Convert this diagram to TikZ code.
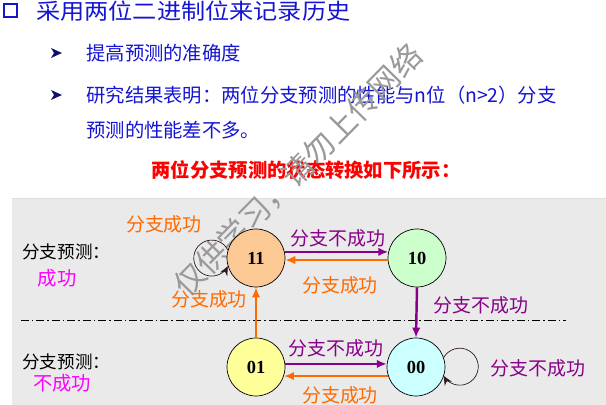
\documentclass[tikz,border=0pt]{standalone}
\usepackage{fontspec}
\usepackage{xcolor}
\usepackage{tikz}
\usetikzlibrary{arrows.meta,positioning,calc}
\setmainfont{Liberation Serif}
\newfontfamily\cjk{Noto Sans CJK SC}
\newfontfamily\cjkwide{Noto Sans CJK SC}[FakeStretch=1.1]
\definecolor{titleblue}{HTML}{1414D2}
\definecolor{bulletblue}{HTML}{10106A}
\definecolor{purp}{HTML}{880088}
\definecolor{orng}{HTML}{FF6A00}
\definecolor{mgnta}{HTML}{FF00FF}
\definecolor{panelgray}{HTML}{EAEAEA}
\definecolor{loopdark}{HTML}{2E1A24}
\definecolor{peach}{HTML}{FCC994}
\definecolor{softgreen}{HTML}{CCFFCC}
\definecolor{softyellow}{HTML}{FFFF99}
\definecolor{softcyan}{HTML}{CCFFFF}

\begin{document}
\begin{tikzpicture}[
 x=0.02cm,y=-0.02cm,
 st/.style={circle,draw,thin,minimum size=1.16cm,inner sep=0pt,font=\bfseries\fontsize{10.5}{12}\selectfont},
 arr/.style={-{Latex[length=2mm,width=1.7mm]},line width=1.4pt},
 selfloop/.style={-{Stealth[length=1.8mm,width=1.6mm]},loopdark,thin},
 lbl/.style={font=\cjk\fontsize{10.8}{12}\selectfont,inner sep=1pt},
 side/.style={font=\cjk\fontsize{10}{12}\selectfont,inner sep=0pt,anchor=west},
 txt/.style={font=\cjk\fontsize{11}{13}\selectfont,inner sep=0pt,anchor=west,text=titleblue}
]
\useasboundingbox (0,0) rectangle (606,405);
\fill[panelgray] (12,198) rectangle (606,405);
\draw[gray!25] (12,198) -- (606,198);

% heading and bullets
\draw[titleblue,line width=1.4pt] (4,4) rectangle (17,17);
\node[txt,font=\cjkwide\fontsize{12.5}{14}\selectfont] (title) at (36,11) {采用两位二进制位来记录历史};
\foreach \yy in {53,95}
  \fill[bulletblue] (51,\yy-5) -- (62,\yy) -- (51,\yy+5) -- (54,\yy) -- cycle;
\node[txt] (b1) at (86,53) {提高预测的准确度};
\node[txt] (b2) at (86,95) {研究结果表明：两位分支预测的性能与n位（n>2）分支};
\node[txt] (b3) at (86,130) {预测的性能差不多。};
\node[font=\cjk\bfseries\fontsize{11}{13}\selectfont,text=red,inner sep=0pt] (cap) at (306,170) {两位分支预测的状态转换如下所示：};

% watermark
\node[font=\cjk\fontsize{17.5}{20}\selectfont,text=black!40,rotate=45.5] (wm) at (298,170) {仅供学习，请勿上传网络};

% side labels
\draw[thin,dash pattern=on 0.16cm off 0.06cm on 0.03cm off 0.06cm] (21,320) -- (566,320);
\node[side] (p1) at (22,252) {分支预测：};
\node[side,anchor=center,text=mgnta,font=\cjk\fontsize{11}{12}\selectfont] (p1b) at (57,278) {成功};
\node[side] (p2) at (22,362) {分支预测：};
\node[side,anchor=center,text=mgnta,font=\cjk\fontsize{11}{12}\selectfont] (p2b) at (62,383) {不成功};

% states
\node[st,fill=peach] (s11) at (256,258) {11};
\node[st,fill=softgreen] (s10) at (417,258) {10};
\node[st,fill=softyellow] (s01) at (256,367) {01};
\node[st,fill=softcyan] (s00) at (416,367) {00};

\draw[arr,purp] (s11.12) -- (s10.168);
\draw[arr,orng] (s10.184) -- (s11.-4);
\draw[arr,purp] (s10.south) -- (s00.north);
\draw[arr,orng] (s01.north) -- (s11.south);
\draw[arr,purp] (s01.6) -- (s00.174);
\draw[arr,orng] (s00.198) -- (s01.-18);
\draw[selfloop] (s11.164) arc[start angle=27,end angle=333,radius=0.36cm];
\draw[selfloop] (s00.19) arc[start angle=150,end angle=-150,radius=0.37cm];

\node[lbl,purp] (l1) at (338,238) {分支不成功};
\node[lbl,orng] (l2) at (340,285) {分支成功};
\node[lbl,purp] (l3) at (481,305) {分支不成功};
\node[lbl,orng] (l4) at (209,299) {分支成功};
\node[lbl,orng] (l5) at (164,224) {分支成功};
\node[lbl,purp] (l6) at (336,348) {分支不成功};
\node[lbl,orng] (l7) at (340,395) {分支成功};
\node[lbl,purp] (l8) at (538,368) {分支不成功};
\end{tikzpicture}
\end{document}
